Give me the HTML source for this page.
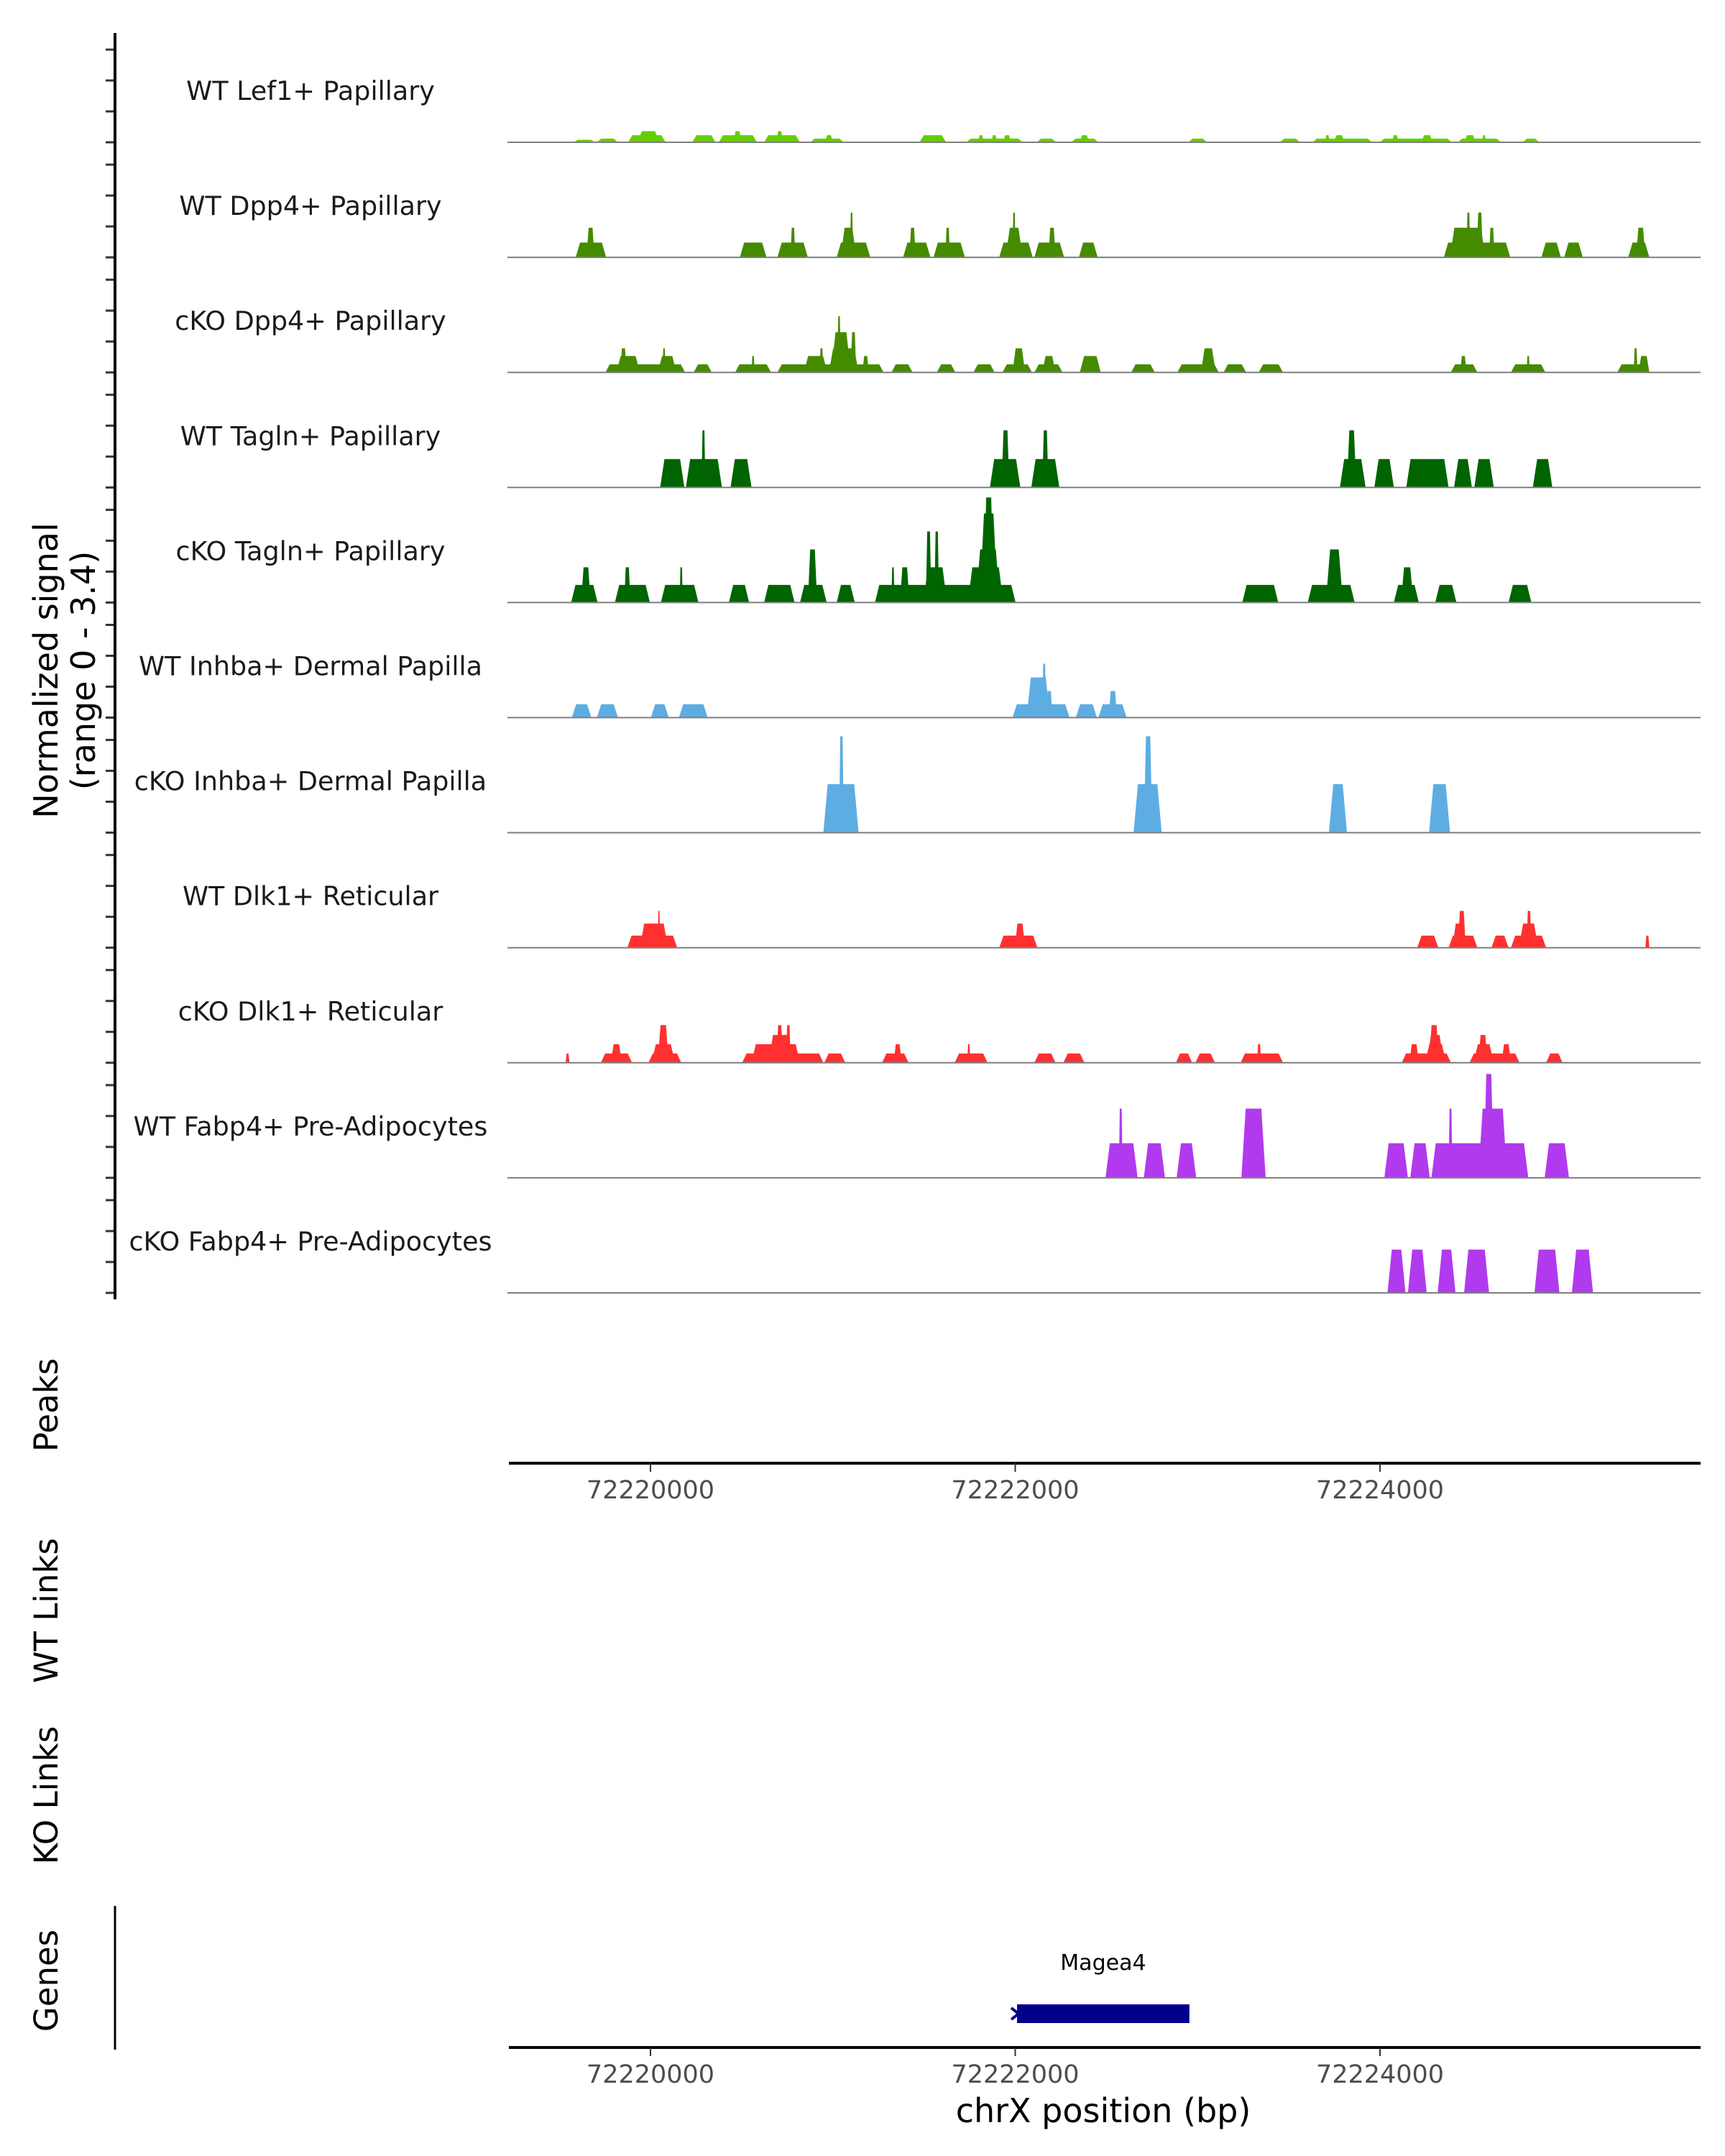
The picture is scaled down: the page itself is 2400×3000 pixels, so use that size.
<!DOCTYPE html>
<html><head><meta charset="utf-8"><style>
html,body{margin:0;padding:0;background:#fff;}
svg{display:block;font-family:"DejaVu Sans","Liberation Sans",sans-serif;}
</style></head><body>
<svg id="chart" width="2400" height="3000" viewBox="0 0 2400 3000" xmlns="http://www.w3.org/2000/svg">
<rect width="2400" height="3000" fill="#fff"/>
<g id="tracks"></g>
<line x1="160" y1="46" x2="160" y2="1808" stroke="#000" stroke-width="4"/>
<text transform="translate(80,933) rotate(-90)" text-anchor="middle" font-size="46" fill="#000"><tspan x="0" dy="0">Normalized signal</tspan><tspan x="0" dy="52">(range 0 - 3.4)</tspan></text>
<text transform="translate(80,1955) rotate(-90)" text-anchor="middle" font-size="45">Peaks</text>
<text transform="translate(80,2241) rotate(-90)" text-anchor="middle" font-size="45">WT Links</text>
<text transform="translate(80,2498) rotate(-90)" text-anchor="middle" font-size="45">KO Links</text>
<text transform="translate(80,2756) rotate(-90)" text-anchor="middle" font-size="45">Genes</text>
<line x1="160" y1="2652" x2="160" y2="2852" stroke="#000" stroke-width="3"/>
<line x1="708" y1="2036" x2="2366" y2="2036" stroke="#000" stroke-width="4"/>
<line x1="708" y1="2849" x2="2366" y2="2849" stroke="#000" stroke-width="4"/>
<g id="xaxes"></g>
<g id="genes"></g>
<text x="1535" y="2953" text-anchor="middle" font-size="46" fill="#000">chrX position (bp)</text>
</svg>
<script>
const ORIGIN = 72220000;
const xTicks = [72220000, 72222000, 72224000];
const xTickLabels = ["72220000", "72222000", "72224000"];
const trackNames = ["WT Lef1+ Papillary","WT Dpp4+ Papillary","cKO Dpp4+ Papillary","WT Tagln+ Papillary","cKO Tagln+ Papillary","WT Inhba+ Dermal Papilla","cKO Inhba+ Dermal Papilla","WT Dlk1+ Reticular","cKO Dlk1+ Reticular","WT Fabp4+ Pre-Adipocytes","cKO Fabp4+ Pre-Adipocytes"];
const trackColors = ["#66cd00","#458b00","#458b00","#006400","#006400","#5dade2","#5dade2","#ff3030","#ff3030","#b23aee","#b23aee"];
// peaks: [start offset bp, end offset bp, signal]
const wtLef1 = [[-422,-303,0.08],[-294,-178,0.12],[-123,83,0.23],[-71,49,0.36],[229,357,0.23],[374,584,0.23],[456,499,0.36],[623,820,0.23],[691,726,0.36],[876,1060,0.12],[957,1000,0.23],[1475,1621,0.23],[1732,2041,0.12],[1797,1827,0.23],[1870,1900,0.23],[1934,1977,0.23],[2118,2225,0.12],[2307,2456,0.12],[2354,2405,0.23],[2949,3052,0.12],[3450,3562,0.12],[3630,3956,0.12],[3699,3724,0.23],[3746,3806,0.23],[3999,4393,0.12],[4067,4101,0.23],[4226,4290,0.23],[4427,4663,0.12],[4461,4526,0.23],[4560,4581,0.23],[4783,4873,0.12]];
const wtDpp4 = [[-410,-243,0.48],[-350,-307,0.96],[490,636,0.48],[696,863,0.48],[768,794,0.96],[1021,1205,0.48],[1043,1128,0.96],[1094,1111,1.45],[1385,1535,0.48],[1420,1454,0.96],[1552,1724,0.48],[1617,1642,0.96],[1912,2096,0.48],[1947,2041,0.96],[1985,2002,1.45],[2105,2268,0.48],[2182,2221,0.96],[2349,2452,0.48],[4350,4714,0.48],[4384,4577,0.96],[4474,4495,1.45],[4530,4564,1.45],[4598,4628,0.96],[4885,4992,0.48],[5010,5112,0.48],[5361,5477,0.48],[5404,5455,0.96]];
const koDpp4 = [[-247,190,0.26],[-187,-58,0.53],[-165,-131,0.78],[40,143,0.53],[66,83,0.78],[237,336,0.26],[464,661,0.26],[554,571,0.53],[696,1278,0.26],[841,970,0.53],[927,948,0.78],[978,1141,0.78],[991,1098,1.3],[1025,1043,1.82],[1098,1128,1.3],[1163,1197,0.53],[1321,1437,0.26],[1570,1672,0.26],[1771,1887,0.26],[1930,2092,0.26],[1985,2054,0.78],[2105,2259,0.26],[2148,2221,0.53],[2354,2469,0.53],[2636,2765,0.26],[2889,3116,0.26],[3018,3099,0.78],[3142,3266,0.26],[3335,3468,0.26],[4388,4534,0.26],[4440,4474,0.53],[4718,4907,0.26],[4804,4821,0.53],[5301,5477,0.26],[5417,5477,0.53],[5391,5412,0.78]];
const wtTagln = [[53,186,0.92],[194,392,0.92],[280,301,1.85],[439,554,0.92],[1861,2028,0.92],[1925,1968,1.85],[2088,2242,0.92],[2148,2182,1.85],[3780,3921,0.92],[3819,3870,1.85],[3969,4076,0.92],[4144,4376,0.92],[4406,4504,0.92],[4517,4624,0.92],[4838,4945,0.92]];
const koTagln = [[-435,-290,0.57],[-380,-328,1.14],[-195,-3,0.57],[-144,-110,1.14],[57,263,0.57],[160,177,1.14],[430,541,0.57],[623,790,0.57],[820,966,0.57],[863,914,1.72],[1021,1120,0.57],[1231,2002,0.57],[1321,1338,1.14],[1368,1420,1.14],[1497,1625,1.14],[1510,1540,2.3],[1557,1582,2.3],[1741,1934,1.14],[1784,1917,1.72],[1805,1904,2.88],[1827,1882,3.4],[3245,3442,0.57],[3604,3861,0.57],[3703,3797,1.72],[4076,4213,0.57],[4115,4183,1.14],[4303,4419,0.57],[4705,4830,0.57]];
const wtInhba = [[-431,-324,0.43],[-294,-178,0.43],[2,100,0.43],[156,314,0.43],[1985,2298,0.43],[2062,2191,1.3],[2148,2169,1.74],[2169,2204,0.86],[2332,2448,0.43],[2456,2611,0.43],[2512,2559,0.86]];
const koInhba = [[948,1141,1.57],[1034,1060,3.12],[2649,2803,1.57],[2705,2752,3.12],[3720,3819,1.57],[4269,4384,1.57]];
const wtDlk1 = [[-127,147,0.39],[-58,96,0.78],[40,53,1.19],[1912,2122,0.39],[1998,2054,0.78],[4204,4320,0.39],[4376,4534,0.39],[4397,4470,0.78],[4427,4470,1.19],[4611,4705,0.39],[4718,4911,0.39],[4761,4868,0.78],[4804,4830,1.19],[5455,5477,0.39]];
const koDlk1 = [[-465,-444,0.3],[-272,-101,0.3],[-217,-157,0.6],[-11,169,0.3],[6,135,0.6],[40,100,1.22],[503,948,0.3],[554,820,0.6],[648,777,0.9],[691,726,1.22],[743,769,1.22],[953,1068,0.3],[1270,1415,0.3],[1334,1377,0.6],[1668,1848,0.3],[1737,1754,0.6],[2105,2221,0.3],[2264,2379,0.3],[2881,2970,0.3],[2988,3095,0.3],[3236,3468,0.3],[3326,3348,0.6],[4119,4389,0.3],[4161,4213,0.6],[4247,4363,0.6],[4256,4350,0.9],[4269,4324,1.22],[4491,4765,0.3],[4513,4624,0.6],[4539,4590,0.9],[4667,4718,0.6],[4911,5001,0.3]];
const wtFabp4 = [[2495,2671,1.12],[2568,2589,2.24],[2705,2821,1.12],[2885,2992,1.12],[3240,3373,2.24],[4024,4153,1.12],[4166,4273,1.12],[4282,4813,1.12],[4376,4397,2.24],[4539,4697,2.24],[4569,4624,3.36],[4903,5036,1.12]];
const koFabp4 = [[4041,4140,1.4],[4153,4256,1.4],[4316,4414,1.4],[4461,4598,1.4],[4847,4984,1.4],[5052,5168,1.4]];
const trackData = [wtLef1, wtDpp4, koDpp4, wtTagln, koTagln, wtInhba, koInhba, wtDlk1, koDlk1, wtFabp4, koFabp4];
const geneName = "Magea4";
const geneStart = 72222010;
const geneEnd = 72222955;

const NS = "http://www.w3.org/2000/svg";
function xScale(bp){ return 905 + (bp - ORIGIN) * 507.5 / 2000; }
function baseY(i){ return 198 + i * 160.1; }
const UNIT = 43;
function yScale(i, v){ return baseY(i) - v * UNIT; }

const tracks = document.getElementById('tracks');
trackData.forEach((peaks, i) => {
  const g = document.createElementNS(NS, 'g');
  
  
  tracks.appendChild(g);
  const b = baseY(i);
  for (let k = 0; k < 4; k++) {
    const t = document.createElementNS(NS, 'line');
    
    
    t.setAttribute('x1', 147); t.setAttribute('x2', 160);
    t.setAttribute('y1', b - k * UNIT); t.setAttribute('y2', b - k * UNIT);
    t.setAttribute('stroke', '#333'); t.setAttribute('stroke-width', 3);
    g.appendChild(t);
  }
  const lab = document.createElementNS(NS, 'text');
  
  
  lab.setAttribute('x', 432); lab.setAttribute('y', b - 59);
  lab.setAttribute('text-anchor', 'middle'); lab.setAttribute('font-size', 36.5);
  lab.setAttribute('fill', '#1a1a1a');
  lab.textContent = trackNames[i];
  g.appendChild(lab);
  peaks.forEach(p => {
    const x0 = xScale(ORIGIN + p[0]), x1 = xScale(ORIGIN + p[1]);
    const s = Math.min(6, (x1 - x0) / 4);
    const yt = yScale(i, p[2]);
    const poly = document.createElementNS(NS, 'polygon');
    
    
    poly.setAttribute('points', `${x0},${b} ${x0+s},${yt} ${x1-s},${yt} ${x1},${b}`);
    poly.setAttribute('fill', trackColors[i]);
    g.appendChild(poly);
  });
  const bl = document.createElementNS(NS, 'line');
  
  
  bl.setAttribute('x1', 706); bl.setAttribute('x2', 2366);
  bl.setAttribute('y1', b); bl.setAttribute('y2', b);
  bl.setAttribute('stroke', '#7f7f7f'); bl.setAttribute('stroke-width', 2);
  g.appendChild(bl);
});

const xaxes = document.getElementById('xaxes');
[2036, 2849].forEach(ay => {
  xTicks.forEach((v, j) => {
    const x = xScale(v);
    const t = document.createElementNS(NS, 'line');
    
    
    t.setAttribute('x1', x); t.setAttribute('x2', x);
    t.setAttribute('y1', ay); t.setAttribute('y2', ay + 12);
    t.setAttribute('stroke', '#333'); t.setAttribute('stroke-width', 2);
    xaxes.appendChild(t);
    const l = document.createElementNS(NS, 'text');
    
    
    l.setAttribute('x', x); l.setAttribute('y', ay + 49);
    l.setAttribute('text-anchor', 'middle'); l.setAttribute('font-size', 35);
    l.setAttribute('fill', '#4d4d4d');
    l.textContent = xTickLabels[j];
    xaxes.appendChild(l);
  });
});

const genes = document.getElementById('genes');
const gx0 = xScale(geneStart), gx1 = xScale(geneEnd);
const bar = document.createElementNS(NS, 'rect');


bar.setAttribute('x', gx0); bar.setAttribute('y', 2789);
bar.setAttribute('width', gx1 - gx0); bar.setAttribute('height', 26);
bar.setAttribute('fill', '#00008b');
genes.appendChild(bar);
const arrow = document.createElementNS(NS, 'polyline');


arrow.setAttribute('points', `${gx0-8},2794 ${gx0+2},2802 ${gx0-8},2810`);
arrow.setAttribute('fill', 'none'); arrow.setAttribute('stroke', '#00008b'); arrow.setAttribute('stroke-width', 4);
genes.appendChild(arrow);
const gl = document.createElementNS(NS, 'text');


gl.setAttribute('x', (gx0 + gx1) / 2); gl.setAttribute('y', 2741);
gl.setAttribute('text-anchor', 'middle'); gl.setAttribute('font-size', 30);
gl.setAttribute('fill', '#000');
gl.textContent = geneName;
genes.appendChild(gl);
</script>
</body></html>
